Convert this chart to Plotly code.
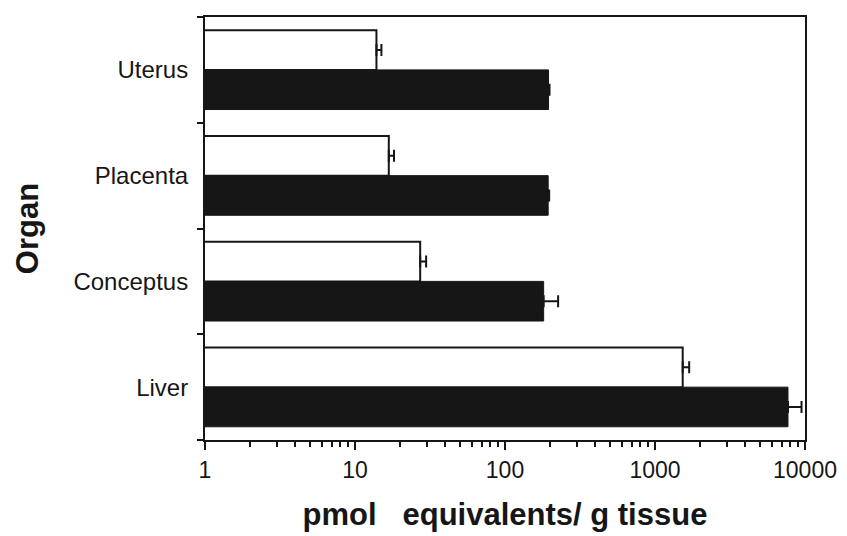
import plotly.graph_objects as go

organs = ["Uterus", "Placenta", "Conceptus", "Liver"]
open_vals = [13.9, 16.8, 27.2, 1530]
open_err_plus = [1.1, 1.4, 2.6, 160]
solid_vals = [195, 194, 181, 7700]
solid_err_plus = [3, 3, 45, 1780]
x_ticks = [1, 10, 100, 1000, 10000]

INK = "#161616"

fig = go.Figure()
fig.add_trace(go.Bar(
    y=organs, x=solid_vals, orientation="h", name="solid",
    marker=dict(color=INK, line=dict(color=INK, width=1)),
    error_x=dict(type="data", symmetric=False, array=solid_err_plus,
                 arrayminus=[0] * len(organs), color=INK,
                 thickness=2, width=6),
))
fig.add_trace(go.Bar(
    y=organs, x=open_vals, orientation="h", name="open",
    marker=dict(color="white", line=dict(color=INK, width=2)),
    error_x=dict(type="data", symmetric=False, array=open_err_plus,
                 arrayminus=[0] * len(organs), color=INK,
                 thickness=2, width=6),
))

fig.update_layout(
    width=847, height=536,
    margin=dict(l=197, r=50, t=7, b=104),
    paper_bgcolor="white", plot_bgcolor="white",
    barmode="group", bargap=0.25, bargroupgap=0.0,
    showlegend=False,
    font=dict(family="Liberation Sans, Arial, sans-serif", color=INK),
    xaxis=dict(
        type="log", range=[0, 4],
        tickvals=x_ticks, ticktext=[str(v) for v in x_ticks],
        ticks="outside", ticklen=8, tickwidth=2, tickcolor=INK,
        showline=True, linewidth=2, linecolor=INK, mirror=True,
        showgrid=False, zeroline=False,
        tickfont=dict(size=23),
        minor=dict(ticks="outside", ticklen=5, tickwidth=2, tickcolor=INK,
                   dtick="D1", showgrid=False),
        title=dict(text="<b>pmol   equivalents/ g tissue</b>",
                   font=dict(size=31), standoff=22),
    ),
    yaxis=dict(
        categoryorder="array", categoryarray=organs[::-1],
        ticks="outside", tickson="boundaries", ticklen=6, tickwidth=2,
        tickcolor=INK,
        showline=True, linewidth=2, linecolor=INK, mirror=True,
        showgrid=False, zeroline=False,
        tickfont=dict(size=24), ticklabelstandoff=10,
        title=dict(text="<b>Organ</b>", font=dict(size=31), standoff=26),
    ),
)

fig.write_html("out.html")
